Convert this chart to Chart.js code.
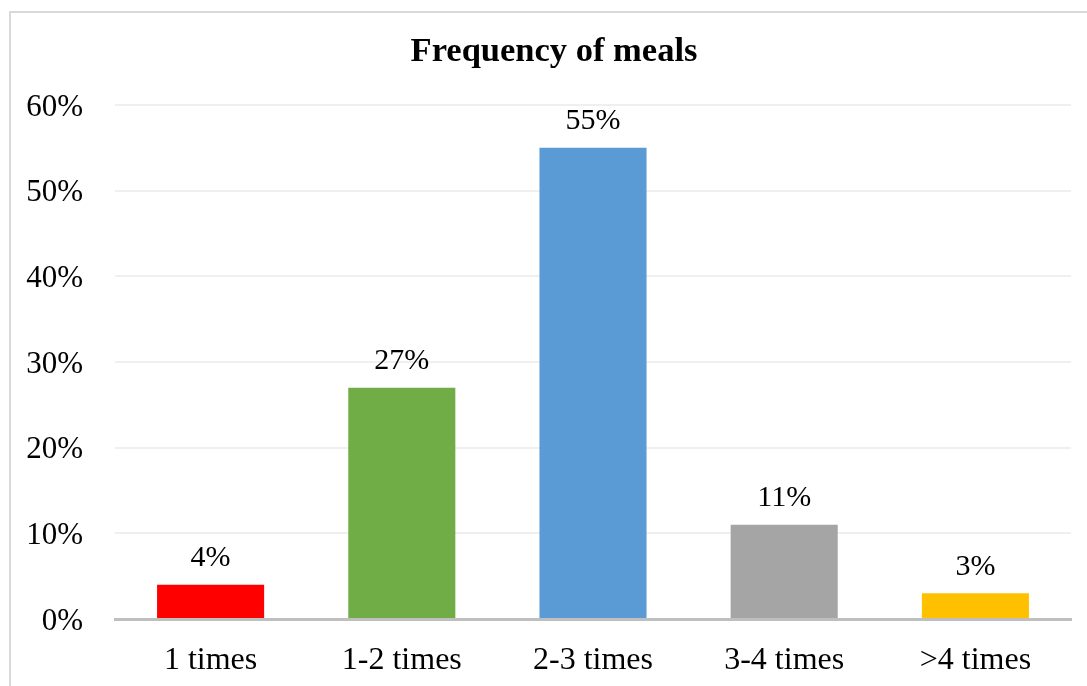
<!DOCTYPE html>
<html>
<head>
<meta charset="utf-8">
<script src="https://cdn.jsdelivr.net/npm/chart.js@4/dist/chart.umd.min.js"></script>
<style>
  html, body { margin: 0; padding: 0; background: #ffffff; }
  #wrap { width: 1087px; height: 686px; position: relative; }
</style>
</head>
<body>
<div id="wrap"><canvas id="c" width="1087" height="686"></canvas></div>
<script>
const titleText = "Frequency of meals";
const categories = ["1 times", "1-2 times", "2-3 times", "3-4 times", ">4 times"];
const values = [4, 27, 55, 11, 3];
const barColors = ["#FF0000", "#70AD47", "#5B9BD5", "#A5A5A5", "#FFC000"];
const yTicks = [0, 10, 20, 30, 40, 50, 60];

const SERIF = '"Liberation Serif", "Times New Roman", serif';

const framePlugin = {
  id: 'frame',
  afterLayout(chart) {
    // centre the title on the outer frame rather than on the padded box
    if (chart.titleBlock) {
      chart.titleBlock.left = 21;
      chart.titleBlock.right = 1087;
      chart.titleBlock.width = 1066;
    }
  },
  beforeDraw(chart) {
    const ctx = chart.ctx;
    ctx.save();
    ctx.fillStyle = '#ffffff';
    ctx.fillRect(0, 0, chart.width, chart.height);
    ctx.strokeStyle = '#D9D9D9';
    ctx.lineWidth = 2;
    ctx.strokeRect(10, 12, chart.width + 20, chart.height + 20);
    ctx.restore();
  }
};

const labelPlugin = {
  id: 'valueLabels',
  afterDatasetsDraw(chart) {
    const ctx = chart.ctx;
    const meta = chart.getDatasetMeta(0);
    ctx.save();
    ctx.font = '30px ' + SERIF;
    ctx.fillStyle = '#000000';
    ctx.textAlign = 'center';
    ctx.textBaseline = 'alphabetic';
    meta.data.forEach((bar, i) => {
      ctx.fillText(values[i] + '%', bar.x, bar.y - 18.5);
    });
    ctx.restore();
  }
};

new Chart(document.getElementById('c'), {
  type: 'bar',
  data: {
    labels: categories,
    datasets: [{
      data: values,
      backgroundColor: barColors,
      borderWidth: 0,
      categoryPercentage: 1.0,
      barPercentage: 0.56
    }]
  },
  options: {
    responsive: false,
    animation: false,
    devicePixelRatio: 1,
    layout: { padding: { top: 0, right: 16, bottom: 0, left: 0 } },
    plugins: {
      legend: { display: false },
      tooltip: { enabled: false },
      title: {
        display: true,
        text: titleText,
        color: '#000000',
        font: { family: SERIF, size: 34.5, weight: 'bold', lineHeight: 1.2 },
        padding: { top: 31, bottom: 32.6 }
      }
    },
    scales: {
      x: {
        grid: { display: false, drawTicks: false },
        border: { display: true, color: '#BFBFBF', width: 3 },
        ticks: {
          color: '#000000',
          font: { family: SERIF, size: 32 },
          padding: 22,
          maxRotation: 0,
          autoSkip: false
        },
        afterFit(scale) { scale.height = 67; }
      },
      y: {
        min: 0,
        max: 60,
        afterBuildTicks(scale) { scale.ticks = yTicks.map(v => ({ value: v })); },
        grid: { color: '#EFEFEF', lineWidth: 2, drawTicks: false },
        border: { display: false },
        ticks: {
          color: '#000000',
          font: { family: SERIF, size: 31 },
          padding: 32,
          labelOffset: 2.5,
          callback: (v) => v + '%'
        },
        afterFit(scale) { scale.width = 115; }
      }
    }
  },
  plugins: [framePlugin, labelPlugin]
});
</script>
</body>
</html>
